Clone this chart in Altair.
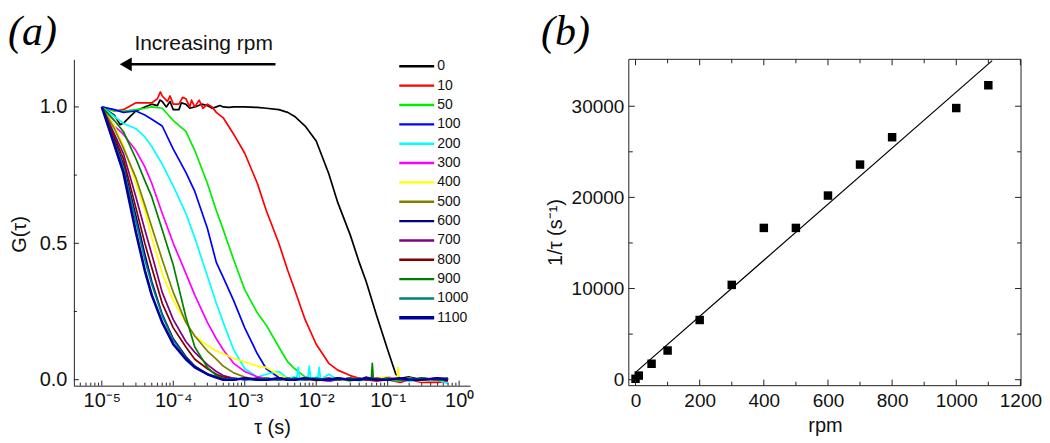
import json
import altair as alt
import pandas as pd

# ---------------- data: panel (a) ----------------
series = ['0', '10', '50', '100', '200', '300', '400', '500', '600', '700', '800', '900', '1000', '1100']
colors = ['#000000', '#ff0000', '#00ee00', '#0000ff', '#00ffff', '#ff00ff', '#ffff00', '#808000',
          '#000080', '#800080', '#800000', '#008000', '#008080', '#00009a']

tau = [1e-5, 1.5e-5, 2e-5, 3e-5, 4e-5, 5e-5, 7e-5, 1e-4, 1.5e-4, 2e-4, 3e-4, 4e-4, 5e-4, 7e-4,
       1e-3, 1.5e-3, 2e-3, 3e-3, 4e-3, 5e-3, 7e-3, 1e-2, 1.5e-2, 2e-2, 3e-2, 4e-2, 5e-2, 7e-2,
       1e-1, 1.5e-1, 2e-1, 3e-1, 5e-1, 7e-1]

g_0 = [1.0, 0.97, 0.94, 0.985, 1.0, 1.01, 1.02, 0.99, 1.01, 1.0, 1.005, 1.0, 1.0, 1.0, 1.0, 0.998, 0.995,
       0.99, 0.98, 0.965, 0.93, 0.875, 0.755, 0.65, 0.53, 0.43, 0.36, 0.235, 0.11, 0.005, 0.01, 0.0, 0.005, 0.005]
g_10 = [1.0, 0.985, 0.99, 1.015, 1.015, 1.015, 1.04, 1.01, 1.03, 1.0, 1.01, 0.98, 0.96, 0.9, 0.83, 0.72, 0.62,
        0.5, 0.4, 0.33, 0.22, 0.13, 0.06, 0.035, 0.015, 0.005, 0.0, -0.005, 0.0, -0.01, 0.0, -0.01, -0.01, -0.005]
g_50 = [1.0, 0.985, 0.985, 0.99, 0.995, 1.0, 0.995, 0.95, 0.91, 0.84, 0.72, 0.62, 0.55, 0.44, 0.33, 0.245, 0.2,
        0.12, 0.065, 0.04, 0.01, 0.005, 0.0, 0.005, -0.005, 0.005, 0.0, 0.005, 0.0, -0.005, 0.005, 0.0, 0.0, 0.005]
g_100 = [1.0, 0.99, 0.98, 0.985, 0.97, 0.955, 0.93, 0.845, 0.76, 0.69, 0.555, 0.43, 0.375, 0.29, 0.19, 0.095, 0.04,
         0.008, 0.0, 0.005, 0.0, 0.005, -0.005, 0.0, 0.005, 0.0, 0.005, 0.0, 0.0, 0.005, 0.0, 0.005, 0.0, 0.0]
g_200 = [1.0, 0.965, 0.94, 0.92, 0.89, 0.855, 0.79, 0.71, 0.61, 0.52, 0.38, 0.28, 0.21, 0.11, 0.04, 0.01, 0.02,
         0.03, 0.005, 0.01, 0.0, 0.01, 0.02, 0.0, 0.005, -0.005, 0.005, 0.0, 0.005, 0.0, -0.005, 0.0, 0.0, -0.015]
g_300 = [1.0, 0.93, 0.9, 0.84, 0.78, 0.72, 0.61, 0.5, 0.39, 0.31, 0.21, 0.15, 0.11, 0.06, 0.03, 0.01, 0.005,
         0.0, 0.005, 0.0, 0.005, 0.0, -0.005, 0.005, 0.0, 0.0, 0.005, 0.0, 0.01, 0.0, 0.005, 0.0, 0.005, 0.0]
g_400 = [1.0, 0.93, 0.86, 0.72, 0.62, 0.52, 0.39, 0.29, 0.21, 0.16, 0.125, 0.105, 0.095, 0.078, 0.065, 0.05, 0.045,
         0.018, 0.005, 0.0, 0.005, -0.005, 0.0, 0.005, 0.0, 0.005, 0.0, 0.005, 0.01, 0.0, 0.005, -0.005, 0.005, 0.0]
g_500 = [1.0, 0.92, 0.85, 0.74, 0.64, 0.56, 0.44, 0.32, 0.21, 0.16, 0.105, 0.075, 0.05, 0.025, 0.01, 0.0, 0.005,
         0.0, 0.005, 0.0, 0.005, 0.0, 0.005, 0.0, 0.0, 0.005, 0.0, 0.005, 0.0, 0.005, 0.0, 0.005, 0.0, 0.0]
g_600 = [1.0, 0.88, 0.79, 0.6, 0.46, 0.36, 0.24, 0.15, 0.085, 0.05, 0.02, 0.01, 0.0, 0.005, 0.0, 0.005, 0.0,
         0.0, 0.005, 0.0, 0.005, 0.0, 0.0, 0.005, 0.0, 0.005, 0.0, 0.0, 0.005, 0.0, 0.0, 0.005, 0.0, 0.0]
g_700 = [1.0, 0.9, 0.83, 0.67, 0.55, 0.46, 0.32, 0.22, 0.14, 0.1, 0.055, 0.03, 0.015, 0.005, 0.0, 0.005, 0.0,
         0.005, 0.0, 0.0, 0.005, 0.0, 0.005, 0.0, 0.005, 0.0, 0.01, 0.0, 0.005, 0.0, 0.0, 0.005, 0.0, 0.005]
g_800 = [1.0, 0.89, 0.81, 0.63, 0.5, 0.41, 0.28, 0.19, 0.12, 0.075, 0.04, 0.02, 0.01, 0.0, 0.005, 0.0, 0.0,
         0.005, 0.0, 0.005, 0.0, 0.0, 0.005, 0.0, 0.005, 0.0, 0.0, 0.005, 0.0, 0.005, 0.0, 0.0, 0.005, 0.0]
g_900 = [1.0, 0.95, 0.91, 0.81, 0.73, 0.67, 0.55, 0.42, 0.23, 0.12, 0.045, 0.015, 0.005, 0.0, 0.005, 0.0, 0.005,
         0.0, 0.0, 0.005, 0.0, 0.005, 0.0, 0.0, 0.005, 0.0, 0.005, 0.0, 0.0, 0.005, 0.0, 0.005, 0.0, 0.0]
g_1000 = [1.0, 0.87, 0.78, 0.58, 0.44, 0.35, 0.235, 0.145, 0.08, 0.048, 0.02, 0.008, 0.0, 0.005, 0.0, 0.0, 0.005,
          0.0, 0.005, 0.0, 0.0, 0.005, 0.0, 0.005, 0.0, 0.0, 0.005, 0.0, 0.005, 0.0, 0.005, 0.0, 0.0, 0.005]
g_1100 = [1.0, 0.86, 0.76, 0.54, 0.4, 0.31, 0.21, 0.13, 0.075, 0.045, 0.02, 0.008, 0.0, 0.0, 0.005, 0.0, 0.0,
          0.005, 0.0, 0.0, 0.005, 0.0, 0.0, 0.005, 0.0, 0.0, 0.005, 0.0, 0.0, 0.005, 0.0, 0.0, 0.005, 0.0]

g_all = [g_0, g_10, g_50, g_100, g_200, g_300, g_400, g_500, g_600, g_700, g_800, g_900, g_1000, g_1100]

# extra samples (wiggles and spikes): (series, tau, G)
extra_points = [
    ('0', 1.8e-5, 0.935), ('0', 2.5e-5, 0.965), ('0', 6e-5, 1.005), ('0', 6.5e-5, 1.025), ('0', 8e-5, 1.0),
    ('0', 9e-5, 1.02), ('0', 1.2e-4, 0.99), ('0', 1.3e-4, 1.015), ('0', 1.7e-4, 0.995), ('0', 2.5e-4, 1.01),
    ('0', 3.5e-4, 0.995), ('0', 4.5e-4, 1.005), ('0', 6e-4, 0.998), ('0', 1.3e-1, 0.02),
    ('10', 6e-5, 1.03), ('10', 6.6e-5, 1.055), ('10', 8.3e-5, 1.02), ('10', 9e-5, 1.04), ('10', 1.2e-4, 1.01),
    ('10', 1.35e-4, 1.035), ('10', 1.7e-4, 1.0), ('10', 1.8e-4, 1.025), ('10', 2.3e-4, 1.025),
    ('10', 2.6e-4, 0.995), ('10', 3.5e-4, 1.0),
    ('200', 5.3e-3, 0.0), ('200', 5.6e-3, 0.045), ('200', 5.9e-3, 0.0), ('200', 7.6e-3, 0.0),
    ('200', 8e-3, 0.05), ('200', 8.4e-3, 0.0), ('200', 1.05e-2, 0.0), ('200', 1.1e-2, 0.045), ('200', 1.15e-2, 0.0),
    ('400', 1.35e-1, 0.0), ('400', 1.4e-1, 0.045), ('400', 1.45e-1, 0.0),
    ('900', 5.9e-2, 0.0), ('900', 6.1e-2, 0.06), ('900', 6.3e-2, 0.0),
]

decade_values = [1e-5, 1e-4, 1e-3, 1e-2, 1e-1, 1.0]
decade_labels = ['10⁻⁵', '10⁻⁴', '10⁻³', '10⁻²', '10⁻¹', '10⁰']
tau_minor = [m * 10.0 ** e for e in range(-6, 0) for m in range(2, 10) if m * 10.0 ** e > 4.5e-6]
g_major = [0.0, 0.5, 1.0]
g_minor = [0.25, 0.75]

# ---------------- data: panel (b) ----------------
rpm = [0, 10, 50, 100, 200, 300, 400, 500, 600, 700, 800, 1000, 1100]
inv_tau = [100, 450, 1750, 3200, 6550, 10400, 16650, 16650, 20200, 23600, 26600, 29800, 32300]
fit_rpm = [0, 1112]
fit_inv = [800, 35000]
rpm_major = [0, 200, 400, 600, 800, 1000, 1200]
rpm_minor = [100, 300, 500, 700, 900, 1100]
inv_major = [0, 10000, 20000, 30000]
inv_minor = [5000, 15000, 25000]

# ---------------- build ----------------
rows = []
for s, g in zip(series, g_all):
    for t, v in zip(tau, g):
        rows.append({'series': s, 'tau': t, 'G': v})
for s, t, v in extra_points:
    rows.append({'series': s, 'tau': t, 'G': v})
df_lines = pd.DataFrame(rows)

FONT = 'Liberation Sans'
TXT = '#111111'
W1, H1 = 397, 327
W2, H2 = 393, 327
one = pd.DataFrame({'k': [0]})

xs1 = alt.Scale(type='log', domain=[10 ** -5.391, 10 ** 0.1536], nice=False)
ys1 = alt.Scale(domain=[-0.022, 1.1745], nice=False, zero=False)
cs = alt.Scale(domain=series, range=colors)

label_expr = json.dumps(decade_labels, ensure_ascii=False) + "[round(log(datum.value)/LN10)+5]"

lines = alt.Chart(df_lines).mark_line(strokeJoin='round').encode(
    x=alt.X('tau:Q', scale=xs1, axis=alt.Axis(
        values=decade_values, labelExpr=label_expr, title='τ (s)', grid=False, ticks=False, tickSize=0,
        domainColor='#222222', labelFont=FONT, labelFontSize=20, labelColor=TXT, labelPadding=5,
        labelFlush=False, labelOverlap=False,
        titleFont=FONT, titleFontSize=20, titleFontWeight='normal', titleColor=TXT, titlePadding=7)),
    y=alt.Y('G:Q', scale=ys1, axis=alt.Axis(
        values=g_major, format='.1f', title='G(τ)', grid=False, ticks=False, tickSize=0,
        domainColor='#222222', labelFont=FONT, labelFontSize=20, labelColor=TXT, labelPadding=7,
        titleFont=FONT, titleFontSize=20, titleFontWeight='normal', titleColor=TXT,
        titleAngle=270, titleX=-44, titleY=175, titleAlign='center', titleBaseline='bottom')),
    color=alt.Color('series:N', scale=cs, legend=None),
    strokeWidth=alt.when(alt.datum.series == '1100').then(alt.value(2.6)).otherwise(alt.value(1.7)),
)

def xticks(values, scale, field, length, top=False, height=H1):
    d = pd.DataFrame({field: values})
    y0 = 0 if top else height
    y1 = length if top else height - length
    return alt.Chart(d).mark_rule(color='#222222', strokeWidth=1).encode(
        x=alt.X(f'{field}:Q', scale=scale, axis=None), y=alt.value(y0), y2=alt.value(y1))

def yticks(values, scale, field, length, right=False, width=W1):
    d = pd.DataFrame({field: values})
    x0 = width if right else 0
    x1 = width - length if right else length
    return alt.Chart(d).mark_rule(color='#222222', strokeWidth=1).encode(
        y=alt.Y(f'{field}:Q', scale=scale, axis=None), x=alt.value(x0), x2=alt.value(x1))

# legend drawn inside the plot
leg_df = pd.DataFrame({'series': series})
leg_y = alt.Y('series:N', scale=alt.Scale(type='point', domain=series, range=[7, 259], padding=0), axis=None)
leg_lines = alt.Chart(leg_df).mark_rule().encode(
    x=alt.value(326), x2=alt.value(361), y=leg_y,
    color=alt.Color('series:N', scale=cs, legend=None),
    strokeWidth=alt.when(alt.datum.series == '1100').then(alt.value(3.4)).otherwise(alt.value(2.4)),
)
leg_text = alt.Chart(leg_df).mark_text(align='left', baseline='middle', font=FONT, fontSize=14,
                                       color=TXT).encode(x=alt.value(364), y=leg_y, text='series:N')

arrow = alt.Chart(one).mark_rule(color='black', strokeWidth=2.5).encode(
    x=alt.value(54), x2=alt.value(202), y=alt.value(5))
arrow_head = alt.Chart(one).mark_point(shape='triangle-left', filled=True, size=190, color='black',
                                       opacity=1).encode(x=alt.value(52), y=alt.value(5))
inc_text = alt.Chart(one).mark_text(text='Increasing rpm', font=FONT, fontSize=21, color=TXT,
                                    align='center', baseline='alphabetic').encode(
    x=alt.value(130), y=alt.value(-9))
label_a = alt.Chart(one).mark_text(text='(a)', font='Liberation Serif', fontStyle='italic', fontSize=42,
                                   color='black', align='left', baseline='alphabetic').encode(
    x=alt.value(-66), y=alt.value(-14))

left = alt.layer(
    lines,
    xticks(decade_values, xs1, 'tau', 5), xticks(tau_minor, xs1, 'tau', 3),
    yticks(g_major, ys1, 'G', 5), yticks(g_minor, ys1, 'G', 3),
    leg_lines, leg_text, arrow, arrow_head, inc_text, label_a,
).resolve_scale(x='independent', y='independent').properties(width=W1, height=H1)

# ---------------- panel (b) ----------------
xs2 = alt.Scale(domain=[-21, 1202], nice=False, zero=False)
ys2 = alt.Scale(domain=[-657, 35146], nice=False, zero=False)
df_pts = pd.DataFrame({'rpm': rpm, 'inv': inv_tau})
df_fit = pd.DataFrame({'rpm': fit_rpm, 'inv': fit_inv})

pts = alt.Chart(df_pts).mark_square(size=72, color='black', opacity=1).encode(
    x=alt.X('rpm:Q', scale=xs2, axis=alt.Axis(
        values=rpm_major, format='d', title='rpm', grid=False, ticks=False, tickSize=0, domain=False,
        labelFont=FONT, labelFontSize=19, labelColor=TXT, labelPadding=6, labelFlush=False,
        titleFont=FONT, titleFontSize=20, titleFontWeight='normal', titleColor=TXT, titlePadding=5)),
    y=alt.Y('inv:Q', scale=ys2, axis=alt.Axis(
        values=inv_major, format='d', title='1/τ (s⁻¹)', grid=False, ticks=False, tickSize=0, domain=False,
        labelFont=FONT, labelFontSize=19, labelColor=TXT, labelPadding=5,
        titleFont=FONT, titleFontSize=20, titleFontWeight='normal', titleColor=TXT,
        titleAngle=270, titleX=-63, titleY=173, titleAlign='center', titleBaseline='bottom')),
)
fit = alt.Chart(df_fit).mark_line(color='black', strokeWidth=1.2).encode(
    x=alt.X('rpm:Q', scale=xs2, axis=None), y=alt.Y('inv:Q', scale=ys2, axis=None))

frame = [
    alt.Chart(one).mark_rule(color='#222222', strokeWidth=1).encode(x=alt.value(0), x2=alt.value(W2), y=alt.value(0)),
    alt.Chart(one).mark_rule(color='#222222', strokeWidth=1).encode(x=alt.value(0), x2=alt.value(W2), y=alt.value(H2)),
    alt.Chart(one).mark_rule(color='#222222', strokeWidth=1).encode(y=alt.value(0), y2=alt.value(H2), x=alt.value(0)),
    alt.Chart(one).mark_rule(color='#222222', strokeWidth=1).encode(y=alt.value(0), y2=alt.value(H2), x=alt.value(W2)),
]
ticks_b = [
    xticks(rpm_major, xs2, 'rpm', 6, height=H2), xticks(rpm_minor, xs2, 'rpm', 4, height=H2),
    xticks(rpm_major, xs2, 'rpm', 6, top=True, height=H2), xticks(rpm_minor, xs2, 'rpm', 4, top=True, height=H2),
    yticks(inv_major, ys2, 'inv', 6, width=W2), yticks(inv_minor, ys2, 'inv', 4, width=W2),
    yticks(inv_major, ys2, 'inv', 6, right=True, width=W2), yticks(inv_minor, ys2, 'inv', 4, right=True, width=W2),
]
label_b = alt.Chart(one).mark_text(text='(b)', font='Liberation Serif', fontStyle='italic', fontSize=42,
                                   color='black', align='left', baseline='alphabetic').encode(
    x=alt.value(-88), y=alt.value(-14))

right = alt.layer(fit, pts, *frame, *ticks_b, label_b).resolve_scale(
    x='independent', y='independent').properties(width=W2, height=H2)

chart = alt.hconcat(left, right, spacing=67).properties(
    padding={'top': 3, 'left': 0, 'right': 0, 'bottom': 0}).configure_view(strokeOpacity=0)

chart.save('out.html', embed_options={'renderer': 'svg', 'actions': False})
